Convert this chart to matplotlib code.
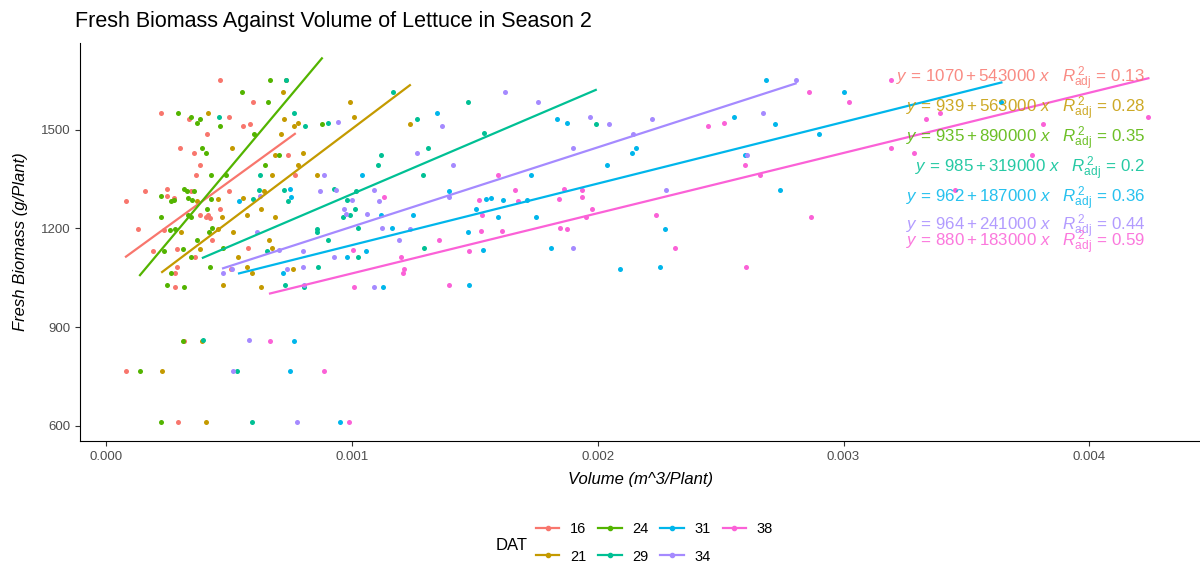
import numpy as np
import matplotlib
matplotlib.use("Agg")
import matplotlib.pyplot as plt
from matplotlib.lines import Line2D

plt.rcParams['font.family'] = ['Liberation Sans', 'DejaVu Sans']
plt.rcParams['mathtext.fontset'] = 'custom'
plt.rcParams['mathtext.rm'] = 'Liberation Sans'
plt.rcParams['mathtext.it'] = 'Liberation Sans:italic'
plt.rcParams['mathtext.bf'] = 'Liberation Sans:bold'

# days after transplant
dat_levels = ["16", "21", "24", "29", "31", "34", "38"]
dat_colors = ["#F8766D", "#C49A00", "#53B400", "#00C094", "#00B6EB", "#A58AFF", "#FB61D7"]

# volume in litres per plant (converted to m^3 below), fresh biomass in g per plant
vol_16 = [0.463, 0.224, 0.500, 0.337, 0.598, 0.557, 0.585, 0.411, 0.301, 0.358, 0.382, 0.366,
          0.159, 0.081, 0.248, 0.248, 0.276, 0.346, 0.500, 0.463, 0.415, 0.423, 0.407, 0.382,
          0.130, 0.236, 0.191, 0.289, 0.431, 0.577, 0.362, 0.289, 0.280, 0.280, 0.508, 0.081,
          0.293, 0.317, 0.740, 0.768]
bio_16 = [1651, 1551, 1538, 1532, 1584, 1511, 1517, 1487, 1444, 1429, 1393, 1362,
          1314, 1283, 1320, 1299, 1292, 1314, 1314, 1259, 1241, 1232, 1235, 1241,
          1198, 1195, 1131, 1138, 1165, 1141, 1113, 1083, 1065, 1022, 1077, 767,
          612, 858, 1423, 1362]

vol_21 = [0.415, 0.720, 0.724, 0.711, 0.512, 0.687, 0.675, 0.642, 0.557, 0.455, 0.370, 0.630,
          0.472, 0.573, 0.687, 0.516, 0.455, 0.305, 0.663, 0.675, 0.382, 0.537, 0.573, 0.593,
          0.476, 0.630, 0.390, 0.228, 0.407, 0.732, 0.992, 1.008, 0.764, 0.780, 1.236, 0.801,
          0.780, 0.858, 0.760]
bio_21 = [1551, 1614, 1532, 1487, 1444, 1423, 1362, 1314, 1292, 1289, 1283, 1259,
          1235, 1241, 1235, 1189, 1198, 1189, 1165, 1141, 1138, 1113, 1083, 1065,
          1028, 1022, 858, 767, 612, 1651, 1584, 1538, 1511, 1520, 1517, 1429,
          1393, 1362, 1077]

vol_24 = [0.667, 0.553, 0.659, 0.293, 0.346, 0.382, 0.370, 0.463, 0.602, 0.390, 0.407, 0.646,
          0.427, 0.488, 0.703, 0.317, 0.329, 0.358, 0.224, 0.264, 0.276, 0.333, 0.350, 0.427,
          0.224, 0.411, 0.333, 0.346, 0.431, 0.260, 0.280, 0.419, 0.370, 0.236, 0.313, 0.346,
          0.476, 0.423, 0.264, 0.248, 0.317, 0.313, 0.138, 0.224, 0.878]
bio_24 = [1651, 1614, 1584, 1551, 1538, 1532, 1520, 1511, 1487, 1444, 1429, 1393,
          1362, 1362, 1423, 1320, 1314, 1314, 1299, 1283, 1286, 1292, 1286, 1289,
          1235, 1259, 1241, 1235, 1201, 1195, 1198, 1189, 1165, 1131, 1138, 1113,
          1141, 1083, 1065, 1028, 1022, 858, 767, 612, 1517]

vol_29 = [0.732, 0.459, 0.764, 0.809, 1.167, 1.472, 1.264, 1.309, 1.118, 1.106, 1.289, 0.626,
          0.622, 0.598, 0.724, 0.740, 0.902, 0.927, 1.016, 0.980, 1.012, 0.992, 0.963, 1.024,
          0.858, 0.858, 0.902, 1.293, 1.024, 0.862, 0.728, 0.805, 0.394, 0.533, 0.593, 1.537,
          1.992, 0.654]
bio_29 = [1651, 1538, 1551, 1511, 1614, 1584, 1532, 1444, 1423, 1393, 1362, 1362,
          1317, 1289, 1317, 1283, 1520, 1320, 1314, 1286, 1259, 1241, 1235, 1201,
          1198, 1189, 1165, 1141, 1113, 1083, 1028, 1022, 861, 767, 612, 1490,
          1517, 1131]

vol_31 = [0.541, 1.346, 1.041, 0.748, 0.752, 1.394, 1.248, 1.118, 1.163, 1.472, 1.504, 1.057,
          0.980, 0.720, 1.126, 1.476, 0.764, 0.748, 0.951, 1.545, 1.565, 1.614, 1.593, 1.748,
          1.533, 1.809, 2.089, 2.252, 1.833, 1.874, 2.037, 2.138, 2.154, 2.272, 1.728, 1.711,
          2.553, 2.683, 3.000, 2.720, 2.902, 2.598, 2.740, 3.642]
bio_31 = [1283, 1551, 1362, 1320, 1296, 1314, 1241, 1241, 1201, 1189, 1259, 1131,
          1113, 1065, 1022, 1028, 858, 767, 612, 1289, 1292, 1286, 1235, 1235,
          1135, 1141, 1077, 1083, 1532, 1520, 1393, 1429, 1444, 1198, 1362, 1286,
          1538, 1651, 1614, 1517, 1487, 1423, 1317, 1584]

vol_34 = [0.626, 0.614, 0.943, 1.366, 1.264, 1.411, 0.886, 0.870, 0.935, 1.089, 1.000, 1.110,
          0.967, 0.976, 1.061, 1.122, 1.191, 1.236, 0.801, 0.736, 0.801, 0.476, 0.512, 1.089,
          0.581, 0.516, 0.776, 0.703, 0.927, 0.805, 1.622, 1.756, 1.967, 2.045, 2.220, 2.142,
          1.898, 1.394, 2.276, 1.898, 2.805, 2.671, 2.606]
bio_34 = [1299, 1189, 1523, 1511, 1429, 1393, 1362, 1314, 1317, 1317, 1286, 1283,
          1259, 1244, 1244, 1201, 1165, 1198, 1131, 1077, 1083, 1065, 1077, 1022,
          861, 767, 612, 1135, 1113, 1028, 1614, 1584, 1538, 1517, 1532, 1487,
          1444, 1296, 1317, 1141, 1651, 1551, 1423]

vol_38 = [1.130, 1.354, 1.476, 1.516, 1.004, 1.199, 1.211, 1.207, 1.008, 1.394, 0.667, 0.886,
          0.988, 1.593, 1.663, 1.675, 1.862, 1.841, 1.935, 1.935, 1.976, 1.951, 1.524, 1.610,
          1.846, 1.874, 1.528, 2.236, 2.313, 2.447, 2.512, 2.858, 3.024, 2.598, 2.659, 2.866,
          2.602, 3.191, 3.337, 3.394, 3.191, 3.285, 3.455, 3.813, 4.240, 3.768]
bio_38 = [1296, 1165, 1131, 1286, 1135, 1113, 1077, 1065, 1022, 1028, 858, 767,
          612, 1362, 1317, 1283, 1320, 1289, 1317, 1296, 1259, 1235, 1192, 1192,
          1201, 1198, 1241, 1241, 1141, 1511, 1520, 1614, 1584, 1393, 1362, 1235,
          1083, 1651, 1532, 1551, 1444, 1429, 1317, 1517, 1538, 1423]

volumes = [vol_16, vol_21, vol_24, vol_29, vol_31, vol_34, vol_38]
biomass = [bio_16, bio_21, bio_24, bio_29, bio_31, bio_34, bio_38]

# fitted models: biomass = intercept + slope * volume(m^3)
intercepts = [1070, 939, 935, 985, 962, 964, 880]
slopes = [543000, 563000, 890000, 319000, 187000, 241000, 183000]
r2_adj = ["0.13", "0.28", "0.35", "0.2", "0.36", "0.44", "0.59"]

fig = plt.figure(figsize=(12, 5.67), dpi=100)
ax = fig.add_axes([80 / 1200, 1 - 441 / 567, 1120 / 1200, 398 / 567])

for vol, bio, b0, b1, col in zip(volumes, biomass, intercepts, slopes, dat_colors):
    x = np.array(vol) / 1000
    ax.scatter(x, bio, s=13, color=col, linewidths=0, zorder=2)
    xs = np.array([x.min(), x.max()])
    ax.plot(xs, b0 + b1 * xs, color=col, lw=1.6, zorder=3)

# equation labels, top right of the panel (the last two sit on top of each other)
label_y = [0.899, 0.824, 0.749, 0.673, 0.598, 0.528, 0.487]
for b0, b1, r2, col, ly in zip(intercepts, slopes, r2_adj, dat_colors, label_y):
    eq = r"$y\,=\,%d + %d\ x\quad R_{\mathrm{adj}}^{\,2}\,=\,%s$" % (b0, b1, r2)
    ax.text(0.951, ly, eq, transform=ax.transAxes, ha='right', va='baseline',
            color=col, fontsize=12.2, alpha=0.85, zorder=4)

ax.set_xlim(-0.000106, 0.00445)
ax.set_ylim(554, 1763)
ax.set_xticks([0.000, 0.001, 0.002, 0.003, 0.004])
ax.set_xticklabels(["0.000", "0.001", "0.002", "0.003", "0.004"])
ax.set_yticks([600, 900, 1200, 1500])

for side in ['top', 'right']:
    ax.spines[side].set_visible(False)
for side in ['left', 'bottom']:
    ax.spines[side].set_linewidth(0.8)
ax.tick_params(axis='both', colors='#333333', labelcolor='#4D4D4D', labelsize=9.5,
               length=3.5, width=0.8)

ax.set_xlabel("Volume (m^3/Plant)", fontsize=12, style='italic', labelpad=7)
ax.set_ylabel("Fresh Biomass (g/Plant)", fontsize=12, style='italic', labelpad=9)

fig.text(75 / 1200, 1 - 22 / 567, "Fresh Biomass Against Volume of Lettuce in Season 2",
         fontsize=15.5, ha='left', va='center')

# legend below the panel
handles = [Line2D([0], [0], color=c, lw=1.6, marker='o', markersize=3) for c in dat_colors]
fig.text(496 / 1200, 1 - 545 / 567, "DAT", fontsize=12, ha='left', va='center')
fig.legend(handles, dat_levels, ncol=4, loc='center left',
           bbox_to_anchor=(536 / 1200, 1 - 543 / 567), frameon=False, fontsize=10.5,
           handlelength=1.6, handletextpad=0.75, columnspacing=0.8, labelspacing=0.9,
           borderpad=0, borderaxespad=0)

fig.savefig("out.png", dpi=100)
